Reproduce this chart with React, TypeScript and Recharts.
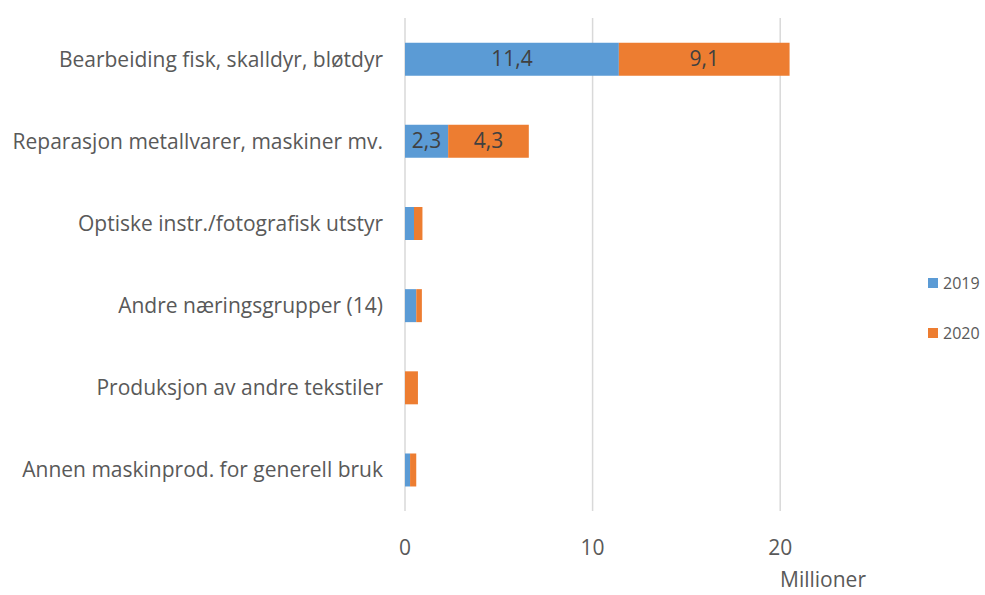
import React from 'react';
import { BarChart, Bar, XAxis, YAxis, CartesianGrid, LabelList, Label } from 'recharts';

const categories = [
    'Bearbeiding fisk, skalldyr, bløtdyr',
    'Reparasjon metallvarer, maskiner mv.',
    'Optiske instr./fotografisk utstyr',
    'Andre næringsgrupper (14)',
    'Produksjon av andre tekstiler',
    'Annen maskinprod. for generell bruk',
];
const seriesA = [11.4, 2.3, 0.48, 0.6, 0, 0.27];
const seriesB = [9.1, 4.3, 0.45, 0.3, 0.69, 0.33];
const seriesNames = ['2019', '2020'];
const xTicks = [0, 10, 20];
const xMax = 25;

const colors = {
    a: '#5b9bd5',
    b: '#ed7d31',
    grid: '#d9d9d9',
    text: '#595959',
    label: '#404040',
};

const data = categories.map((name, i) => ({ name, a: seriesA[i], b: seriesB[i] }));

const fmt = (v: number) => v.toFixed(1).replace('.', ',');

const BarLabel = (props: any) => {
    const { x, y, width, height, value } = props;
    if (!value || value < 1) return null;
    return (
        <text x={x + width / 2} y={y + height / 2} dy={7} textAnchor="middle" fill={colors.label} fontSize={21}>
            {fmt(value)}
        </text>
    );
};

// grid only at the tick values, not at the domain end
const gridX = ({ offset }: any) => xTicks.map((t) => offset.left + (offset.width * t) / xMax);

export default function App() {
    return (
        <div style={{ position: 'absolute', left: 0, top: 0, width: 985, height: 595, overflow: 'hidden', background: '#fff', fontFamily: '"Open Sans", sans-serif' }}>
            <BarChart
                width={985}
                height={595}
                data={data}
                layout="vertical"
                barCategoryGap="30%"
                margin={{ top: 18, right: 111, left: 0, bottom: 0 }}
            >
                <CartesianGrid horizontal={false} stroke={colors.grid} strokeWidth={1.5} verticalCoordinatesGenerator={gridX} />
                <XAxis
                    type="number"
                    domain={[0, xMax]}
                    ticks={xTicks}
                    axisLine={false}
                    tickLine={false}
                    tickMargin={23}
                    height={84}
                    tick={{ fill: colors.text, fontSize: 21 }}
                >
                    <Label value="Millioner" position="insideBottomRight" offset={8} fill={colors.text} fontSize={21} />
                </XAxis>
                <YAxis
                    type="category"
                    dataKey="name"
                    width={405}
                    axisLine={false}
                    tickLine={false}
                    tickMargin={16}
                    tick={{ fill: colors.text, fontSize: 21 }}
                />
                <Bar dataKey="a" name={seriesNames[0]} stackId="s" fill={colors.a} isAnimationActive={false}>
                    <LabelList dataKey="a" content={<BarLabel />} />
                </Bar>
                <Bar dataKey="b" name={seriesNames[1]} stackId="s" fill={colors.b} isAnimationActive={false}>
                    <LabelList dataKey="b" content={<BarLabel />} />
                </Bar>
            </BarChart>
            <div style={{ position: 'absolute', left: 928, top: 273, fontSize: 16, color: colors.text }}>
                {[colors.a, colors.b].map((c, i) => (
                    <div key={i} style={{ display: 'flex', alignItems: 'center', height: 20, marginBottom: 30 }}>
                        <span style={{ width: 10, height: 10, background: c, marginRight: 5 }} />
                        <span>{seriesNames[i]}</span>
                    </div>
                ))}
            </div>
        </div>
    );
}
